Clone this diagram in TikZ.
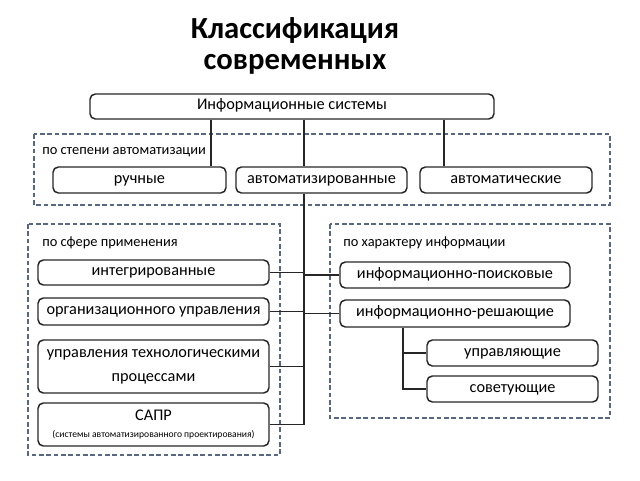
\documentclass[tikz,border=0pt]{standalone}
\usepackage{fontspec}
\setmainfont{Carlito}
\usepackage{xcolor}
\usepackage{tikz}
\definecolor{grpblue}{RGB}{88,104,132}
\tikzstyle{isbox}=[draw=black!85,line width=1.1pt,rounded corners=4pt,inner sep=0pt,font=\fontsize{12.2}{18}\selectfont,align=center]
\tikzstyle{oneline}=[isbox,text height=7.5pt,text depth=2.5pt]
\tikzstyle{grp}=[draw=grpblue,line width=1pt,dash pattern=on 3.5pt off 2pt]
\tikzstyle{grplabel}=[anchor=west,inner sep=0pt,font=\fontsize{10.8}{12}\selectfont]
\tikzstyle{link}=[line width=1.1pt,black!85]

\begin{document}
\begin{tikzpicture}[x=0.75pt,y=-0.75pt]
	\useasboundingbox (0,0) rectangle (640,480);
	\node[font=\bfseries\fontsize{23}{23.5}\selectfont,align=center] (title) at (295,46) {Классификация\\современных};
	% groups
	\draw[grp] (34,134) rectangle (610,205);
	\draw[grp] (28,224) rectangle (280,455);
	\draw[grp] (330,224) rectangle (610,418);
	\node[grplabel] (lauto) at (42,152) {по степени автоматизации};
	\node[grplabel] (lsfera) at (42,243) {по сфере применения};
	\node[grplabel] (lhar) at (343,243) {по характеру информации};
	% boxes
	\node[oneline,minimum width=303pt,minimum height=18.75pt] (is) at (292,106.5) {Информационные системы};
	\node[oneline,minimum width=129.75pt,minimum height=19.5pt] (ruch) at (139.5,180) {ручные};
	\node[oneline,minimum width=128.25pt,minimum height=19.5pt] (avtz) at (321.5,180) {автоматизированные};
	\node[oneline,minimum width=129pt,minimum height=19.5pt] (avtm) at (506,180) {автоматические};
	\node[oneline,minimum width=173.25pt,minimum height=18.75pt] (integ) at (153.5,272.5) {интегрированные};
	\node[oneline,minimum width=173.25pt,minimum height=20.25pt] (org) at (153.5,311.5) {организационного управления};
	\node[isbox,minimum width=173.25pt,minimum height=39.75pt] (teh) at (153.5,366.5) {управления технологическими\\процессами};
	\node[isbox,minimum width=173.25pt,minimum height=32.25pt] (sapr) at (153.5,424.5) {САПР\\[-5pt]{\fontsize{7.2}{8}\selectfont(системы автоматизированного проектирования)}};
	\node[oneline,minimum width=172.5pt,minimum height=19.5pt] (poisk) at (455,275) {информационно-поисковые};
	\node[oneline,minimum width=172.5pt,minimum height=20.25pt] (resh) at (455,313.5) {информационно-решающие};
	\node[oneline,minimum width=128.25pt,minimum height=19.5pt] (upr) at (512.5,353) {управляющие};
	\node[oneline,minimum width=128.25pt,minimum height=19.5pt] (sov) at (512.5,389) {советующие};
	% connectors
	\coordinate (t1) at (211,0);
	\coordinate (t2) at (304,0);
	\coordinate (t3) at (444,0);
	\coordinate (t4) at (403,0);
	\draw[link] (is.south -| t1) -- (ruch.north -| t1);
	\draw[link] (is.south -| t2) -- (avtz.north -| t2);
	\draw[link] (is.south -| t3) -- (avtm.north -| t3);
	\draw[link] (avtz.south -| t2) |- (sapr.east);
	\draw[link] (integ.east) -- (integ.east -| t2);
	\draw[link] (org.east) -- (org.east -| t2);
	\draw[link] (teh.east) -- (teh.east -| t2);
	\draw[link] (poisk.west) -- (poisk.west -| t2);
	\draw[link] (resh.west) -- (resh.west -| t2);
	\draw[link] (resh.south -| t4) |- (sov.west);
	\draw[link] (upr.west) -- (upr.west -| t4);
\end{tikzpicture}
\end{document}
